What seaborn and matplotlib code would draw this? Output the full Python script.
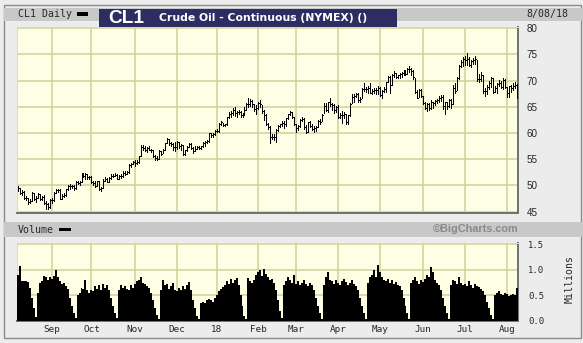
import numpy as np
import pandas as pd
import matplotlib
matplotlib.use("Agg")
import matplotlib.pyplot as plt
from matplotlib.patches import Rectangle
import seaborn as sns

# ---- data -------------------------------------------------------------
session_start = "2017-08-09"
session_end = "2018-08-08"
exchange_holidays = ["2017-09-04", "2017-11-23", "2017-12-25", "2018-01-01",
                     "2018-01-15", "2018-02-19", "2018-03-30", "2018-05-28",
                     "2018-07-04"]

close = [
    # Aug 2017
    49.56, 48.59, 48.82, 47.59, 47.55, 46.78, 47.09, 48.51, 47.37, 47.64,
    48.41, 47.43, 47.87, 46.57, 46.44, 45.96, 47.23,
    # Sep
    47.29, 48.66, 49.16, 49.09, 47.48, 48.07, 48.23, 49.30, 49.89, 49.89,
    49.91, 49.48, 50.69, 50.55, 50.66, 52.22, 51.88, 52.14, 51.56, 51.67,
    # Oct
    50.58, 50.42, 49.98, 50.79, 49.29, 49.58, 50.92, 51.30, 50.60, 51.45,
    51.87, 51.88, 52.04, 51.29, 51.84, 51.90, 52.47, 52.18, 52.64, 53.90,
    54.15, 54.38,
    # Nov
    54.30, 54.54, 55.64, 57.35, 57.20, 56.81, 57.17, 56.74, 56.76, 55.70,
    55.33, 55.14, 56.55, 56.09, 56.83, 58.02, 58.95, 58.11, 57.99, 57.30,
    57.40,
    # Dec
    58.36, 57.47, 57.62, 55.96, 56.69, 57.36, 57.99, 57.14, 56.60, 57.04,
    57.30, 57.16, 57.46, 58.09, 58.36, 58.47, 59.97, 59.64, 59.84, 60.42,
    # Jan 2018
    60.37, 61.63, 62.01, 61.44, 61.73, 62.96, 63.57, 63.80, 64.30, 63.73,
    63.97, 63.95, 63.37, 63.57, 64.47, 65.61, 65.51, 66.14, 65.56, 64.50,
    64.73,
    # Feb
    65.80, 65.45, 64.15, 63.39, 61.79, 61.15, 59.20, 59.29, 59.19, 60.60,
    61.34, 61.68, 61.90, 61.68, 62.77, 63.55, 63.91, 63.01, 61.64,
    # Mar
    60.99, 61.25, 62.57, 62.60, 61.15, 60.12, 62.04, 61.36, 60.71, 60.96,
    61.19, 62.34, 62.06, 63.40, 65.17, 64.30, 65.88, 65.55, 65.25, 64.38,
    64.94,
    # Apr
    63.01, 63.51, 63.37, 63.54, 62.06, 63.42, 65.51, 66.82, 67.07, 67.39,
    66.22, 66.52, 68.47, 68.29, 68.38, 68.64, 67.70, 68.05, 68.19, 68.10,
    68.57,
    # May
    67.25, 67.93, 68.43, 69.72, 70.73, 69.06, 71.14, 71.36, 70.70, 70.96,
    71.31, 71.49, 71.49, 71.28, 72.24, 72.20, 71.84, 70.71, 67.88, 66.73,
    68.21, 67.04,
    # Jun
    65.81, 64.75, 65.52, 64.73, 65.95, 65.74, 66.10, 66.36, 66.64, 66.89,
    65.06, 65.85, 65.07, 66.22, 65.54, 68.58, 68.08, 70.53, 72.76, 73.45,
    74.15,
    # Jul
    73.94, 74.14, 72.94, 73.80, 73.85, 74.11, 70.38, 70.33, 71.01, 68.06,
    68.08, 68.76, 69.46, 70.46, 67.89, 68.52, 69.30, 69.61, 68.69, 70.13,
    68.76,
    # Aug
    67.66, 68.96, 68.49, 69.01, 69.17, 66.94,
]

high = [
    49.9, 49.6, 49.1, 48.9, 47.9, 47.6, 47.4, 48.8, 48.5, 47.9,
    48.5, 48.4, 48.0, 48.1, 47.0, 46.6, 47.4,
    47.6, 48.8, 49.4, 49.4, 49.4, 48.4, 48.5, 49.4, 50.0, 50.3,
    50.1, 50.0, 50.8, 50.9, 50.9, 52.4, 52.3, 52.4, 52.1, 51.9,
    51.9, 50.9, 50.9, 50.9, 50.9, 49.7, 51.3, 51.6, 51.5, 51.6,
    52.2, 52.2, 52.3, 52.1, 52.0, 52.2, 52.7, 52.8, 52.8, 54.0,
    54.2, 54.7,
    54.8, 54.8, 55.7, 57.7, 57.7, 57.6, 57.4, 57.6, 57.0, 56.7,
    55.9, 55.6, 56.8, 56.6, 57.0, 58.1, 59.1, 58.9, 58.3, 58.1,
    58.3,
    58.5, 58.3, 57.9, 57.7, 56.8, 57.5, 58.1, 58.0, 57.4, 57.5,
    57.6, 57.6, 57.6, 58.3, 58.4, 58.6, 60.0, 60.0, 60.0, 60.5,
    60.7, 61.9, 62.2, 62.0, 61.8, 63.0, 64.0, 64.2, 64.8, 64.9,
    64.1, 64.3, 64.2, 63.9, 64.9, 65.8, 66.7, 66.4, 66.3, 65.5,
    65.3,
    66.0, 66.3, 65.4, 64.3, 63.6, 62.0, 61.4, 59.9, 59.9, 60.8,
    61.5, 61.8, 62.3, 62.2, 62.9, 63.7, 64.2, 64.0, 63.1,
    61.7, 61.6, 62.7, 63.0, 62.9, 61.5, 62.1, 62.2, 61.7, 61.4,
    61.4, 62.5, 62.6, 63.6, 65.7, 65.7, 66.0, 66.7, 65.8, 65.5,
    65.2,
    65.4, 63.8, 64.2, 64.0, 63.7, 63.5, 65.8, 67.4, 67.5, 67.7,
    67.6, 66.8, 68.6, 69.6, 68.8, 68.9, 69.5, 68.4, 68.6, 68.6,
    69.0,
    68.8, 68.1, 68.8, 69.8, 70.8, 70.9, 71.2, 71.9, 71.4, 71.1,
    71.5, 71.6, 72.0, 72.0, 72.3, 72.8, 72.3, 72.0, 70.5, 68.2,
    68.3, 68.4,
    67.1, 66.0, 65.8, 65.8, 66.2, 66.0, 66.3, 66.5, 67.0, 67.3,
    67.2, 66.0, 66.0, 66.5, 66.4, 69.2, 69.6, 70.6, 72.9, 74.0,
    74.5,
    74.7, 75.3, 74.5, 74.0, 74.2, 74.7, 74.0, 71.3, 71.6, 71.1,
    68.6, 69.2, 69.9, 70.6, 70.5, 69.0, 69.5, 70.1, 70.0, 70.4,
    70.3,
    68.8, 69.0, 69.2, 69.5, 69.7, 69.3,
]

low = [
    49.0, 48.4, 48.1, 47.5, 47.3, 46.5, 46.6, 47.0, 47.2, 46.9,
    47.6, 47.3, 47.2, 46.5, 45.6, 45.6, 45.7,
    46.6, 47.0, 48.5, 48.7, 47.4, 47.5, 47.8, 47.9, 49.2, 49.4,
    49.6, 49.2, 49.4, 50.2, 50.1, 50.7, 51.6, 51.3, 51.3, 51.3,
    50.5, 50.0, 49.8, 49.9, 49.1, 48.9, 49.5, 50.8, 50.6, 50.7,
    51.3, 51.6, 51.8, 51.3, 51.3, 51.5, 51.7, 52.0, 52.1, 52.4,
    53.5, 54.0,
    53.8, 54.0, 54.3, 55.6, 56.8, 56.5, 56.4, 56.7, 56.3, 55.4,
    54.8, 54.8, 55.1, 55.8, 56.1, 56.8, 58.0, 57.8, 57.6, 56.8,
    56.6,
    57.0, 57.1, 56.8, 55.8, 55.8, 56.5, 57.3, 56.9, 56.1, 56.5,
    57.0, 57.0, 57.0, 57.4, 57.6, 58.1, 58.2, 59.3, 59.3, 59.7,
    60.1, 60.2, 61.6, 61.3, 61.3, 61.6, 62.8, 63.1, 63.4, 63.3,
    63.0, 63.6, 63.1, 63.1, 63.5, 64.4, 64.9, 65.1, 65.0, 64.1,
    63.7,
    64.5, 65.0, 63.8, 62.5, 61.5, 60.8, 58.1, 58.8, 58.6, 58.3,
    60.3, 61.1, 61.3, 60.9, 61.3, 62.7, 63.4, 62.9, 61.5,
    60.1, 60.5, 61.2, 62.3, 60.8, 60.0, 60.2, 61.2, 60.5, 60.2,
    60.4, 61.1, 61.8, 62.2, 63.8, 64.2, 64.0, 65.2, 64.4, 63.8,
    64.0,
    62.8, 62.8, 61.9, 62.9, 61.8, 61.8, 63.3, 65.8, 66.0, 66.8,
    66.0, 66.0, 66.6, 68.0, 67.9, 67.6, 67.6, 67.4, 67.7, 67.4,
    67.5,
    67.0, 66.7, 67.8, 67.9, 69.8, 67.6, 69.2, 70.6, 70.4, 70.4,
    70.4, 70.7, 71.0, 71.0, 71.3, 71.7, 71.1, 70.2, 67.6, 66.6,
    66.8, 66.8,
    65.6, 64.6, 64.2, 64.4, 64.6, 64.8, 65.4, 65.8, 66.0, 66.1,
    64.5, 63.6, 64.6, 65.0, 64.7, 65.5, 67.7, 68.1, 70.3, 72.6,
    72.8,
    72.9, 73.0, 72.7, 72.5, 73.1, 73.1, 69.9, 69.8, 70.0, 67.6,
    67.0, 67.5, 68.3, 68.7, 67.6, 67.9, 67.7, 68.9, 68.5, 68.4,
    68.5,
    66.9, 66.9, 67.8, 68.2, 68.6, 66.6,
]

# daily volume, millions of contracts (front month, rolls at expiry)
volume_m = [
    0.90, 1.08, 0.78, 0.77, 0.77, 0.76, 0.65, 0.45, 0.25, 0.08,
    0.55, 0.75, 0.78, 0.87, 0.85, 0.80, 0.86, 0.82, 0.88, 1.00,
    0.85, 0.78, 0.72, 0.75, 0.68, 0.62, 0.45, 0.30, 0.15, 0.05,
    0.50, 0.55, 0.65, 0.62, 0.80, 0.60, 0.55, 0.60, 0.58, 0.68,
    0.62, 0.70, 0.60, 0.72, 0.65, 0.70, 0.60, 0.45, 0.30, 0.15, 0.05,
    0.60, 0.70, 0.65, 0.68, 0.62, 0.60, 0.70, 0.65, 0.72, 0.78,
    0.80, 0.85, 0.75, 0.72, 0.68, 0.65, 0.55, 0.40, 0.25, 0.12, 0.04,
    0.60, 0.80, 0.70, 0.72, 0.62, 0.68, 0.74, 0.60, 0.58, 0.65,
    0.60, 0.68, 0.62, 0.70, 0.76, 0.60, 0.40, 0.25, 0.10, 0.04,
    0.36, 0.38, 0.35, 0.40, 0.42, 0.40, 0.38, 0.45, 0.50, 0.58,
    0.62, 0.66, 0.70, 0.78, 0.72, 0.82, 0.75, 0.80, 0.84, 0.70,
    0.50, 0.30, 0.10, 0.03,
    0.84, 0.78, 0.75, 0.80, 0.90, 0.95, 1.00, 0.88, 1.02, 0.92,
    0.85, 0.80, 0.82, 0.75, 0.60, 0.40, 0.20, 0.05,
    0.70, 0.78, 0.85, 0.80, 0.75, 0.90, 0.72, 0.78, 0.70, 0.75,
    0.80, 0.72, 0.68, 0.74, 0.70, 0.60, 0.45, 0.30, 0.15, 0.04,
    0.70, 0.85, 0.95, 0.80, 0.78, 0.72, 0.80, 0.75, 0.70, 0.78,
    0.82, 0.76, 0.70, 0.74, 0.80, 0.72, 0.68, 0.60, 0.45, 0.30,
    0.15, 0.04,
    0.75, 0.85, 0.90, 1.00, 0.85, 1.10, 0.95, 0.85, 0.80, 0.78,
    0.82, 0.75, 0.80, 0.72, 0.76, 0.70, 0.68, 0.60, 0.45, 0.30,
    0.15, 0.04,
    0.75, 0.80, 0.85, 0.78, 0.72, 0.80, 0.76, 0.82, 0.90, 0.85,
    1.05, 0.95, 0.80, 0.75, 0.70, 0.60, 0.45, 0.30, 0.15, 0.04,
    0.70, 0.80, 0.78, 0.72, 0.85, 0.75, 0.70, 0.72, 0.68, 0.78,
    0.70, 0.65, 0.72, 0.68, 0.66, 0.62, 0.58, 0.50, 0.38, 0.25,
    0.12, 0.04,
    0.50, 0.55, 0.58, 0.52, 0.50, 0.55, 0.52, 0.48, 0.50, 0.52,
    0.50, 0.65,
]

price_ticks = [45, 50, 55, 60, 65, 70, 75, 80]
volume_ticks = [0.0, 0.5, 1.0, 1.5]
month_names = ["Sep", "Oct", "Nov", "Dec", "18", "Feb", "Mar", "Apr",
               "May", "Jun", "Jul", "Aug"]

symbol = "CL1"
title = "Crude Oil - Continuous (NYMEX) ()"
as_of = "8/08/18"

# ---- trading calendar -------------------------------------------------
dates = pd.bdate_range(session_start, session_end)
dates = dates[~dates.isin(pd.to_datetime(exchange_holidays))]
n = min(len(dates), len(close), len(high), len(low), len(volume_m))
dates = dates[:n]
idx = np.arange(n)
month_starts = [i for i in range(1, n) if dates[i].month != dates[i - 1].month]

bars = pd.DataFrame({
    "x": np.repeat(idx, 2).astype(float),
    "y": np.column_stack([low[:n], high[:n]]).ravel(),
    "bar": np.repeat(idx, 2),
})
close_ticks = pd.DataFrame({
    "x": np.column_stack([idx, idx + 0.5]).ravel(),
    "y": np.repeat(close[:n], 2),
    "bar": np.repeat(idx, 2),
})
vol = pd.DataFrame({"x": idx, "v": volume_m[:n]})

# ---- figure -----------------------------------------------------------
sns.set_style("white")
W, H = 583, 343
fig = plt.figure(figsize=(W / 100, H / 100), dpi=100)
fig.patch.set_facecolor("#ececec")
MONO = ["DejaVu Sans Mono"]
SANS = ["Liberation Sans", "DejaVu Sans"]


def box(x0, y0, x1, y1):
    """Pixel box (top-left origin) -> figure fraction [l, b, w, h]."""
    return [x0 / W, 1 - y1 / H, (x1 - x0) / W, (y1 - y0) / H]


def fx(x):
    return x / W


def fy(y):
    return 1 - y / H


# frame and header strips
fig.add_artist(Rectangle((fx(3.5), fy(338)), (581 - 3.5) / W, (338 - 4.5) / H,
                         transform=fig.transFigure, facecolor="none",
                         edgecolor="#8a8a8a", lw=1.0, zorder=1))
fig.add_artist(Rectangle((fx(4), fy(20.7)), (583 - 4) / W, 12.7 / H,
                         transform=fig.transFigure, facecolor="#c8c8c8",
                         edgecolor="none", zorder=1))
fig.add_artist(Rectangle((fx(4), fy(236.7)), (583 - 4) / W, 14.4 / H,
                         transform=fig.transFigure, facecolor="#c8c8c8",
                         edgecolor="none", zorder=1))

panel_bg = "#fefee4"
grid_c = "#d2d29c"

ax = fig.add_axes(box(17.3, 27, 518, 212.5))
axv = fig.add_axes(box(17.3, 242.5, 518, 321))

# price bars: high-low stems plus close ticks
sns.lineplot(data=bars, x="x", y="y", units="bar", estimator=None, sort=False,
             color="black", lw=0.55, antialiased=False, ax=ax, zorder=3)
sns.lineplot(data=close_ticks, x="x", y="y", units="bar", estimator=None,
             sort=False, color="black", lw=0.55, antialiased=False, ax=ax,
             zorder=3)

# volume area
sns.histplot(data=vol, x="x", weights="v", discrete=True, element="step",
             fill=True, color="black", alpha=1, linewidth=0, ax=axv, zorder=3)

xlim = (-0.3, n - 0.4)
for a in (ax, axv):
    a.set_facecolor(panel_bg)
    a.set_xlim(*xlim)
    a.set_xlabel("")
    a.set_ylabel("")
    a.set_xticks(month_starts)
    a.grid(True, color=grid_c, lw=1.15, zorder=0)
    a.set_axisbelow(True)
    a.yaxis.tick_right()
    a.tick_params(axis="both", length=0)
    for s in ("top", "left"):
        a.spines[s].set_color("#d6d6d6")
        a.spines[s].set_linewidth(0.7)
    for s in ("bottom", "right"):
        a.spines[s].set_color("#707070")
        a.spines[s].set_linewidth(1.4)
    a.spines["left"].set_visible(True)
    a.spines["top"].set_visible(True)

ax.set_ylim(44.85, 80.2)
ax.set_yticks(price_ticks)
ax.set_yticklabels([str(t) for t in price_ticks], family=SANS, fontsize=7.1)
ax.tick_params(axis="y", pad=6.3)
ax.set_xticklabels([])

axv.set_ylim(0, 1.53)
axv.set_yticks(volume_ticks)
axv.set_yticklabels([f"{t:.1f}" for t in volume_ticks], family=MONO,
                    fontsize=6.4)
axv.tick_params(axis="y", pad=7.5)
axv.set_xticklabels(month_names[:len(month_starts)], family=MONO, fontsize=6.7)
axv.tick_params(axis="x", pad=3)

# header texts
fig.text(fx(17.7), fy(14.3), "CL1 Daily", family=MONO, fontsize=7.1,
         ha="left", va="center", zorder=5)
fig.add_artist(Rectangle((fx(76.7), fy(15.7)), 11.6 / W, 3.4 / H,
                         transform=fig.transFigure, facecolor="black",
                         edgecolor="none", zorder=5))
fig.add_artist(Rectangle((fx(99), fy(26.7)), (397 - 99) / W, 17.7 / H,
                         transform=fig.transFigure, facecolor="#2d2d63",
                         edgecolor="none", zorder=6))
fig.text(fx(108.5), fy(18.2), symbol, family=SANS, fontweight="bold",
         fontsize=13.8, color="white", ha="left", va="center", zorder=7)
fig.text(fx(159), fy(17.6), title, family=["DejaVu Sans"], fontweight="bold",
         fontsize=7.8, color="white", ha="left", va="center", zorder=7)
fig.text(fx(526.7), fy(14.3), as_of, family=MONO, fontsize=7.1,
         ha="left", va="center", zorder=5)

# volume header
fig.text(fx(17.8), fy(229.7), "Volume", family=MONO, fontsize=7.1,
         ha="left", va="center", zorder=5)
fig.add_artist(Rectangle((fx(58.7), fy(231.2)), 11.9 / W, 3.4 / H,
                         transform=fig.transFigure, facecolor="black",
                         edgecolor="none", zorder=5))
fig.text(fx(518.6), fy(229.2), "\u00a9BigCharts.com", family=SANS,
         fontweight="bold", fontsize=7.8, color="#8a8a8a", ha="right",
         va="center", zorder=5)
fig.text(fx(570), fy(279), "Millions", family=MONO, fontsize=7.1,
         rotation=90, ha="center", va="center", zorder=5)

fig.savefig("out.png", dpi=100, facecolor=fig.get_facecolor())
